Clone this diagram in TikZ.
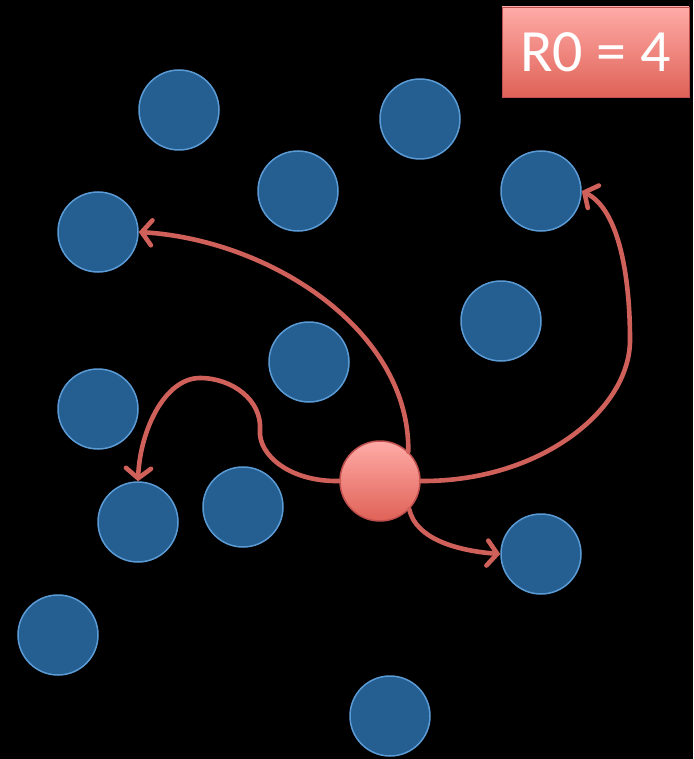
\documentclass[tikz,border=0pt]{standalone}
\usepackage{fontspec}
\setsansfont{Carlito}
\usetikzlibrary{arrows.meta}
\definecolor{dotblue}{HTML}{255E91}
\definecolor{dotrim}{HTML}{5B9BD5}
\definecolor{redtop}{HTML}{FFABA7}
\definecolor{redbot}{HTML}{DF6257}
\definecolor{redrim}{HTML}{C0504D}
\definecolor{linkred}{HTML}{D0605A}
\tikzset{
  person/.style={circle, minimum size=80pt, inner sep=0pt, fill=dotblue, draw=dotrim, line width=1.5pt},
  infected/.style={circle, minimum size=80pt, inner sep=0pt, top color=redtop, bottom color=redbot, draw=redrim, line width=1.5pt},
  spread/.style={draw=linkred, line width=4.6pt, line cap=round, -{Straight Barb[length=10pt, width=25pt, line cap=round]}},
  tag/.style={rectangle, minimum width=187pt, minimum height=90pt, inner sep=0pt, top color=redtop, bottom color=redbot, draw=redrim, line width=0.8pt, text=white, font=\sffamily\fontsize{60}{62}\selectfont}
}
\begin{document}
\begin{tikzpicture}[x=1pt, y=-1pt]
  \fill[black] (0,0) rectangle (693,759);
  \useasboundingbox (0,0) rectangle (693,759);

  % population
  \node[person] (p1)  at (179,110) {};
  \node[person] (p2)  at (420,119) {};
  \node[person] (p3)  at (298,191) {};
  \node[person] (p4)  at (541,191) {};
  \node[person] (p5)  at (98,232)  {};
  \node[person] (p6)  at (501,321) {};
  \node[person] (p7)  at (309,362) {};
  \node[person] (p8)  at (98,409)  {};
  \node[person] (p9)  at (138,522) {};
  \node[person] (p10) at (243,507) {};
  \node[person] (p11) at (541,554) {};
  \node[person] (p12) at (58,635)  {};
  \node[person] (p13) at (390,716) {};

  % index case
  \node[infected] (src) at (380,481) {};

  % reproduction number label
  \node[tag] (r0) at (595.5,52) {R0 = 4};

  % transmission links
  \draw[spread] (src.46) .. controls (410,330) and (270,240) .. (p5.east);
  \draw[spread] (src.east) .. controls (540,482) and (630,410) .. (630,340)
                 .. controls (630,280) and (620,210) .. (p4.east);
  \draw[spread] (src.west) .. controls (290,482) and (258,455) .. (260,430)
                 .. controls (262,400) and (232,378) .. (200,378)
                 .. controls (165,378) and (140,430) .. (p9.north);
  \draw[spread] (src.-44) .. controls (416,540) and (460,551) .. (p11.west);
\end{tikzpicture}
\end{document}
